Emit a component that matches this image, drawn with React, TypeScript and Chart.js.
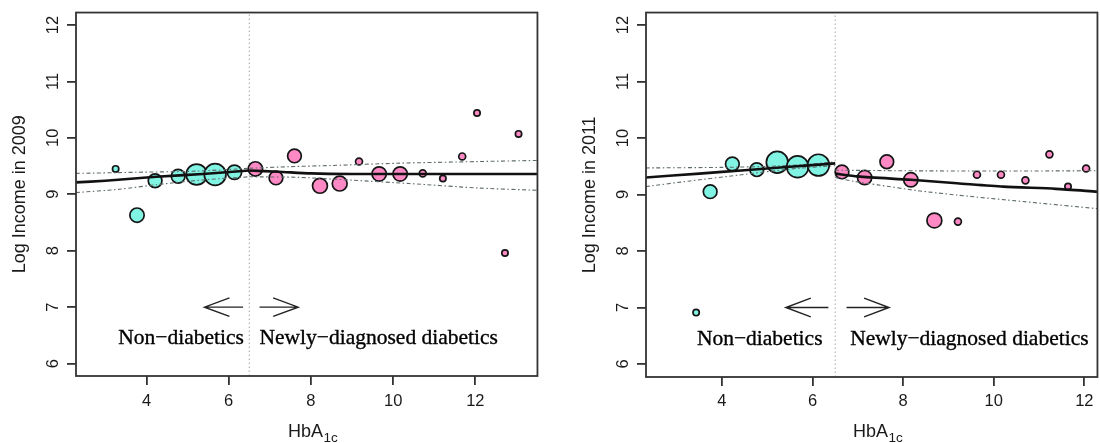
import React, { useEffect, useRef } from 'react';
import { Chart, registerables } from 'chart.js';
Chart.register(...registerables);

// ---------- shared axis values ----------
const xTicks = [4, 6, 8, 10, 12];
const yTicks = [6, 7, 8, 9, 10, 11, 12];
const cutoff = 6.5;
const arrowY = 7;
const arrowLeft = [6.35, 5.41]; // shaft start, head
const arrowRight = [6.75, 7.69];
const labelY = 6.34;

// ---------- 2009 panel ----------
const hba09Non = [3.25, 3.77, 4.21, 4.77, 5.22, 5.67, 6.14];
const inc09Non = [9.45, 8.63, 9.24, 9.32, 9.35, 9.35, 9.39];
const size09Non = [4, 8, 7.7, 7.7, 11.3, 11.7, 8];
const hba09New = [6.65, 7.15, 7.6, 8.22, 8.7, 9.17, 9.66, 10.17, 10.72, 11.21, 11.68, 12.04, 12.72, 13.05];
const inc09New = [9.45, 9.29, 9.68, 9.15, 9.19, 9.58, 9.36, 9.36, 9.37, 9.28, 9.67, 10.44, 7.96, 10.07];
const size09New = [8, 7.7, 7.7, 8.3, 8.3, 4.3, 8, 8, 4.3, 4, 4.3, 4, 4, 4];
const fit09NonX = [2.286, 3, 4.24, 5.37, 6.5];
const fit09NonY = [9.21, 9.24, 9.31, 9.36, 9.42];
const fit09NewX = [6.5, 7.2, 8, 9, 13.51];
const fit09NewY = [9.42, 9.4, 9.37, 9.36, 9.36];
const up09NonX = [2.286, 3.76, 5.2, 6.5];
const up09NonY = [9.37, 9.39, 9.41, 9.46];
const lo09NonX = [2.286, 3.35, 4.24, 5.3, 6.5];
const lo09NonY = [9.03, 9.09, 9.17, 9.25, 9.31];
const up09NewX = [6.5, 7.5, 8.5, 10.1, 12.1, 13.51];
const up09NewY = [9.46, 9.49, 9.51, 9.55, 9.58, 9.6];
const lo09NewX = [6.5, 7.7, 9, 10.4, 12.1, 13.51];
const lo09NewY = [9.31, 9.3, 9.25, 9.19, 9.11, 9.07];

// ---------- 2011 panel ----------
const hba11Non = [3.43, 3.74, 4.23, 4.77, 5.22, 5.67, 6.13];
const inc11Non = [6.91, 9.05, 9.54, 9.44, 9.57, 9.49, 9.52];
const size11Non = [4, 7.7, 7.7, 7.7, 11.7, 11.7, 11.7];
const hba11New = [6.65, 7.15, 7.64, 8.17, 8.69, 9.21, 9.63, 10.16, 10.7, 11.23, 11.64, 12.04];
const inc11New = [9.4, 9.3, 9.58, 9.26, 8.54, 8.52, 9.35, 9.35, 9.25, 9.71, 9.14, 9.46];
const size11New = [7.7, 8, 7.7, 8, 8.3, 4.3, 4.3, 4.3, 4.3, 4.3, 4, 4.3];
const fit11NonX = [2.32, 3.5, 4.5, 5.5, 6.5];
const fit11NonY = [9.3, 9.37, 9.43, 9.49, 9.55];
const fit11NewX = [6.5, 7.0, 8.17, 9.19, 10.21, 11.37, 12.29];
const fit11NewY = [9.37, 9.32, 9.26, 9.2, 9.14, 9.1, 9.05];
const up11NonX = [2.32, 4.0, 5.1, 6.0, 6.5];
const up11NonY = [9.47, 9.48, 9.5, 9.54, 9.58];
const lo11NonX = [2.32, 3.3, 4.38, 5.5, 6.5];
const lo11NonY = [9.14, 9.24, 9.345, 9.45, 9.51];
const up11NewX = [6.5, 8, 10, 12.29];
const up11NewY = [9.43, 9.42, 9.415, 9.42];
const lo11NewX = [6.5, 6.93, 7.44, 8.3, 9.19, 10.64, 12.29];
const lo11NewY = [9.3, 9.23, 9.17, 9.07, 8.99, 8.875, 8.75];

const CYAN = '#80F3E3';
const PINK = '#FF89C5';
const SANS = "'Liberation Sans', Arial, sans-serif";
const SERIF = "'Liberation Serif', 'Times New Roman', serif";

const pts = (xs: number[], ys: number[]) => xs.map((x, i) => ({ x, y: ys[i] }));
const bub = (xs: number[], ys: number[], rs: number[]) =>
  xs.map((x, i) => ({ x, y: ys[i], r: rs[i] - 0.85 }));

type PanelCfg = {
  left: number; width: number; padRight: number; bottom: number; tickPad: number;
  xMin: number; xMax: number; yMin: number; yMax: number;
  yTitle: string; nonX: number; newX: number;
  non: [number[], number[], number[]]; nw: [number[], number[], number[]];
  fitNon: [number[], number[]]; fitNew: [number[], number[]];
  upNon: [number[], number[]]; loNon: [number[], number[]];
  upNew: [number[], number[]]; loNew: [number[], number[]];
};

const panels: PanelCfg[] = [
  {
    left: 0, width: 550, padRight: 11, bottom: 376, tickPad: 7,
    xMin: 2.286, xMax: 13.51, yMin: 5.78, yMax: 12.22,
    yTitle: 'Log Income in 2009', nonX: 6.37, newX: 6.75,
    non: [hba09Non, inc09Non, size09Non], nw: [hba09New, inc09New, size09New],
    fitNon: [fit09NonX, fit09NonY], fitNew: [fit09NewX, fit09NewY],
    upNon: [up09NonX, up09NonY], loNon: [lo09NonX, lo09NonY],
    upNew: [up09NewX, up09NewY], loNew: [lo09NewX, lo09NewY],
  },
  {
    left: 570, width: 540, padRight: 8, bottom: 377, tickPad: 6,
    xMin: 2.3235, xMax: 12.29, yMin: 5.77, yMax: 12.22,
    yTitle: 'Log Income in 2011', nonX: 6.22, newX: 6.83,
    non: [hba11Non, inc11Non, size11Non], nw: [hba11New, inc11New, size11New],
    fitNon: [fit11NonX, fit11NonY], fitNew: [fit11NewX, fit11NewY],
    upNon: [up11NonX, up11NonY], loNon: [lo11NonX, lo11NonY],
    upNew: [up11NewX, up11NewY], loNew: [lo11NewX, lo11NewY],
  },
];

const overlay = (p: PanelCfg) => ({
  id: 'overlay',
  afterDraw(chart: any) {
    const { ctx, chartArea: a, scales } = chart;
    const x = scales.x, y = scales.y;
    ctx.save();
    // box
    ctx.strokeStyle = '#333';
    ctx.lineWidth = 1.8;
    ctx.strokeRect(a.left, a.top, a.right - a.left, a.bottom - a.top);
    // y tick labels (rotated, parallel to the axis)
    ctx.fillStyle = '#1a1a1a';
    ctx.font = `16.5px ${SANS}`;
    ctx.textAlign = 'center';
    ctx.textBaseline = 'alphabetic';
    yTicks.forEach((v) => {
      ctx.save();
      ctx.translate(a.left - 18.5, y.getPixelForValue(v));
      ctx.rotate(-Math.PI / 2);
      ctx.fillText(String(v), 0, 0);
      ctx.restore();
    });
    // y title
    ctx.font = `18px ${SANS}`;
    ctx.save();
    ctx.translate(a.left - 51, (a.top + a.bottom) / 2);
    ctx.rotate(-Math.PI / 2);
    ctx.fillText(p.yTitle, 0, 0);
    ctx.restore();
    // x title HbA1c
    ctx.font = `18px ${SANS}`;
    const w1 = ctx.measureText('HbA').width;
    ctx.font = `13.5px ${SANS}`;
    const w2 = ctx.measureText('1c').width;
    const sx = (a.left + a.right) / 2 - (w1 + w2) / 2 + 6;
    ctx.textAlign = 'left';
    ctx.font = `18px ${SANS}`;
    ctx.fillText('HbA', sx, 437);
    ctx.font = `13.5px ${SANS}`;
    ctx.fillText('1c', sx + w1 + 0.5, 442);
    // arrows
    ctx.strokeStyle = '#222';
    ctx.lineWidth = 1.4;
    const py = y.getPixelForValue(arrowY);
    [arrowLeft, arrowRight].forEach(([s, h]) => {
      const ps = x.getPixelForValue(s);
      const ph = x.getPixelForValue(h);
      const dir = ph < ps ? 1 : -1;
      ctx.beginPath();
      ctx.moveTo(ps, py);
      ctx.lineTo(ph, py);
      ctx.moveTo(ph + dir * 25, py - 9.3);
      ctx.lineTo(ph, py);
      ctx.lineTo(ph + dir * 25, py + 9.3);
      ctx.stroke();
    });
    // group labels
    ctx.fillStyle = '#000';
    ctx.strokeStyle = '#000';
    ctx.lineWidth = 0.35;
    ctx.font = `21.5px ${SERIF}`;
    const ly = y.getPixelForValue(labelY);
    const t1 = 'Non\u2212diabetics';
    const t2 = 'Newly\u2212diagnosed diabetics';
    ctx.textAlign = 'right';
    ctx.fillText(t1, x.getPixelForValue(p.nonX), ly);
    ctx.strokeText(t1, x.getPixelForValue(p.nonX), ly);
    ctx.textAlign = 'left';
    ctx.fillText(t2, x.getPixelForValue(p.newX), ly);
    ctx.strokeText(t2, x.getPixelForValue(p.newX), ly);
    ctx.restore();
  },
});

function Panel({ p }: { p: PanelCfg }) {
  const ref = useRef<HTMLCanvasElement>(null);
  useEffect(() => {
    if (!ref.current) return;
    const ci = { borderColor: '#5f6b6b', borderWidth: 1.1, borderDash: [4, 2.5, 1.5, 2.5] };
    const fit = { borderColor: '#111', borderWidth: 2.6 };
    const lineDs = (data: any, style: any, order: number) => ({
      type: 'line' as const, data, pointRadius: 0, tension: 0.25, fill: false, order, ...style,
    });
    const grid = { drawOnChartArea: false, drawTicks: true, tickLength: 9, color: '#333', lineWidth: 1.8 };
    const chart = new Chart(ref.current, {
      type: 'bubble',
      data: {
        datasets: [
          lineDs(pts(...p.fitNon), fit, 0),
          lineDs(pts(...p.fitNew), fit, 0),
          lineDs(pts(...p.upNon), ci, 1),
          lineDs(pts(...p.loNon), ci, 1),
          lineDs(pts(...p.upNew), ci, 1),
          lineDs(pts(...p.loNew), ci, 1),
          {
            type: 'bubble', data: bub(...p.non), backgroundColor: CYAN,
            borderColor: '#151515', borderWidth: 1.7, order: 2,
          },
          {
            type: 'bubble', data: bub(...p.nw), backgroundColor: PINK,
            borderColor: '#151515', borderWidth: 1.7, order: 2,
          },
          lineDs(
            [{ x: cutoff, y: p.yMin }, { x: cutoff, y: p.yMax }],
            { borderColor: '#a8a8a8', borderWidth: 1, borderDash: [1.5, 2.5], tension: 0 },
            3
          ),
        ] as any,
      },
      options: {
        responsive: false,
        animation: false,
        devicePixelRatio: 1,
        events: [],
        layout: { padding: { top: 9, right: p.padRight, left: 0, bottom: 0 } },
        plugins: { legend: { display: false }, tooltip: { enabled: false } },
        scales: {
          x: {
            type: 'linear', min: p.xMin, max: p.xMax,
            grid, border: { display: false },
            afterBuildTicks: (s: any) => { s.ticks = xTicks.map((v) => ({ value: v })); },
            afterFit: (s: any) => { s.height = 443 - p.bottom; },
            ticks: {
              autoSkip: false, maxRotation: 0, minRotation: 0, padding: p.tickPad,
              color: '#1a1a1a', font: { family: SANS, size: 16.5 },
            },
          },
          y: {
            type: 'linear', min: p.yMin, max: p.yMax,
            grid, border: { display: false },
            afterBuildTicks: (s: any) => { s.ticks = yTicks.map((v) => ({ value: v })); },
            afterFit: (s: any) => { s.width = 76; },
            ticks: { display: false },
          },
        },
      } as any,
      plugins: [overlay(p)],
    });
    return () => chart.destroy();
  }, [p]);
  return (
    <canvas
      ref={ref}
      width={p.width}
      height={443}
      style={{ position: 'absolute', left: p.left, top: 0, width: p.width, height: 443, display: 'block' }}
    />
  );
}

export default function App() {
  return (
    <div
      style={{
        position: 'fixed', left: 0, top: 0, width: 1100, height: 443,
        overflow: 'hidden', background: '#fff',
      }}
    >
      {panels.map((p, i) => (
        <Panel key={i} p={p} />
      ))}
    </div>
  );
}
